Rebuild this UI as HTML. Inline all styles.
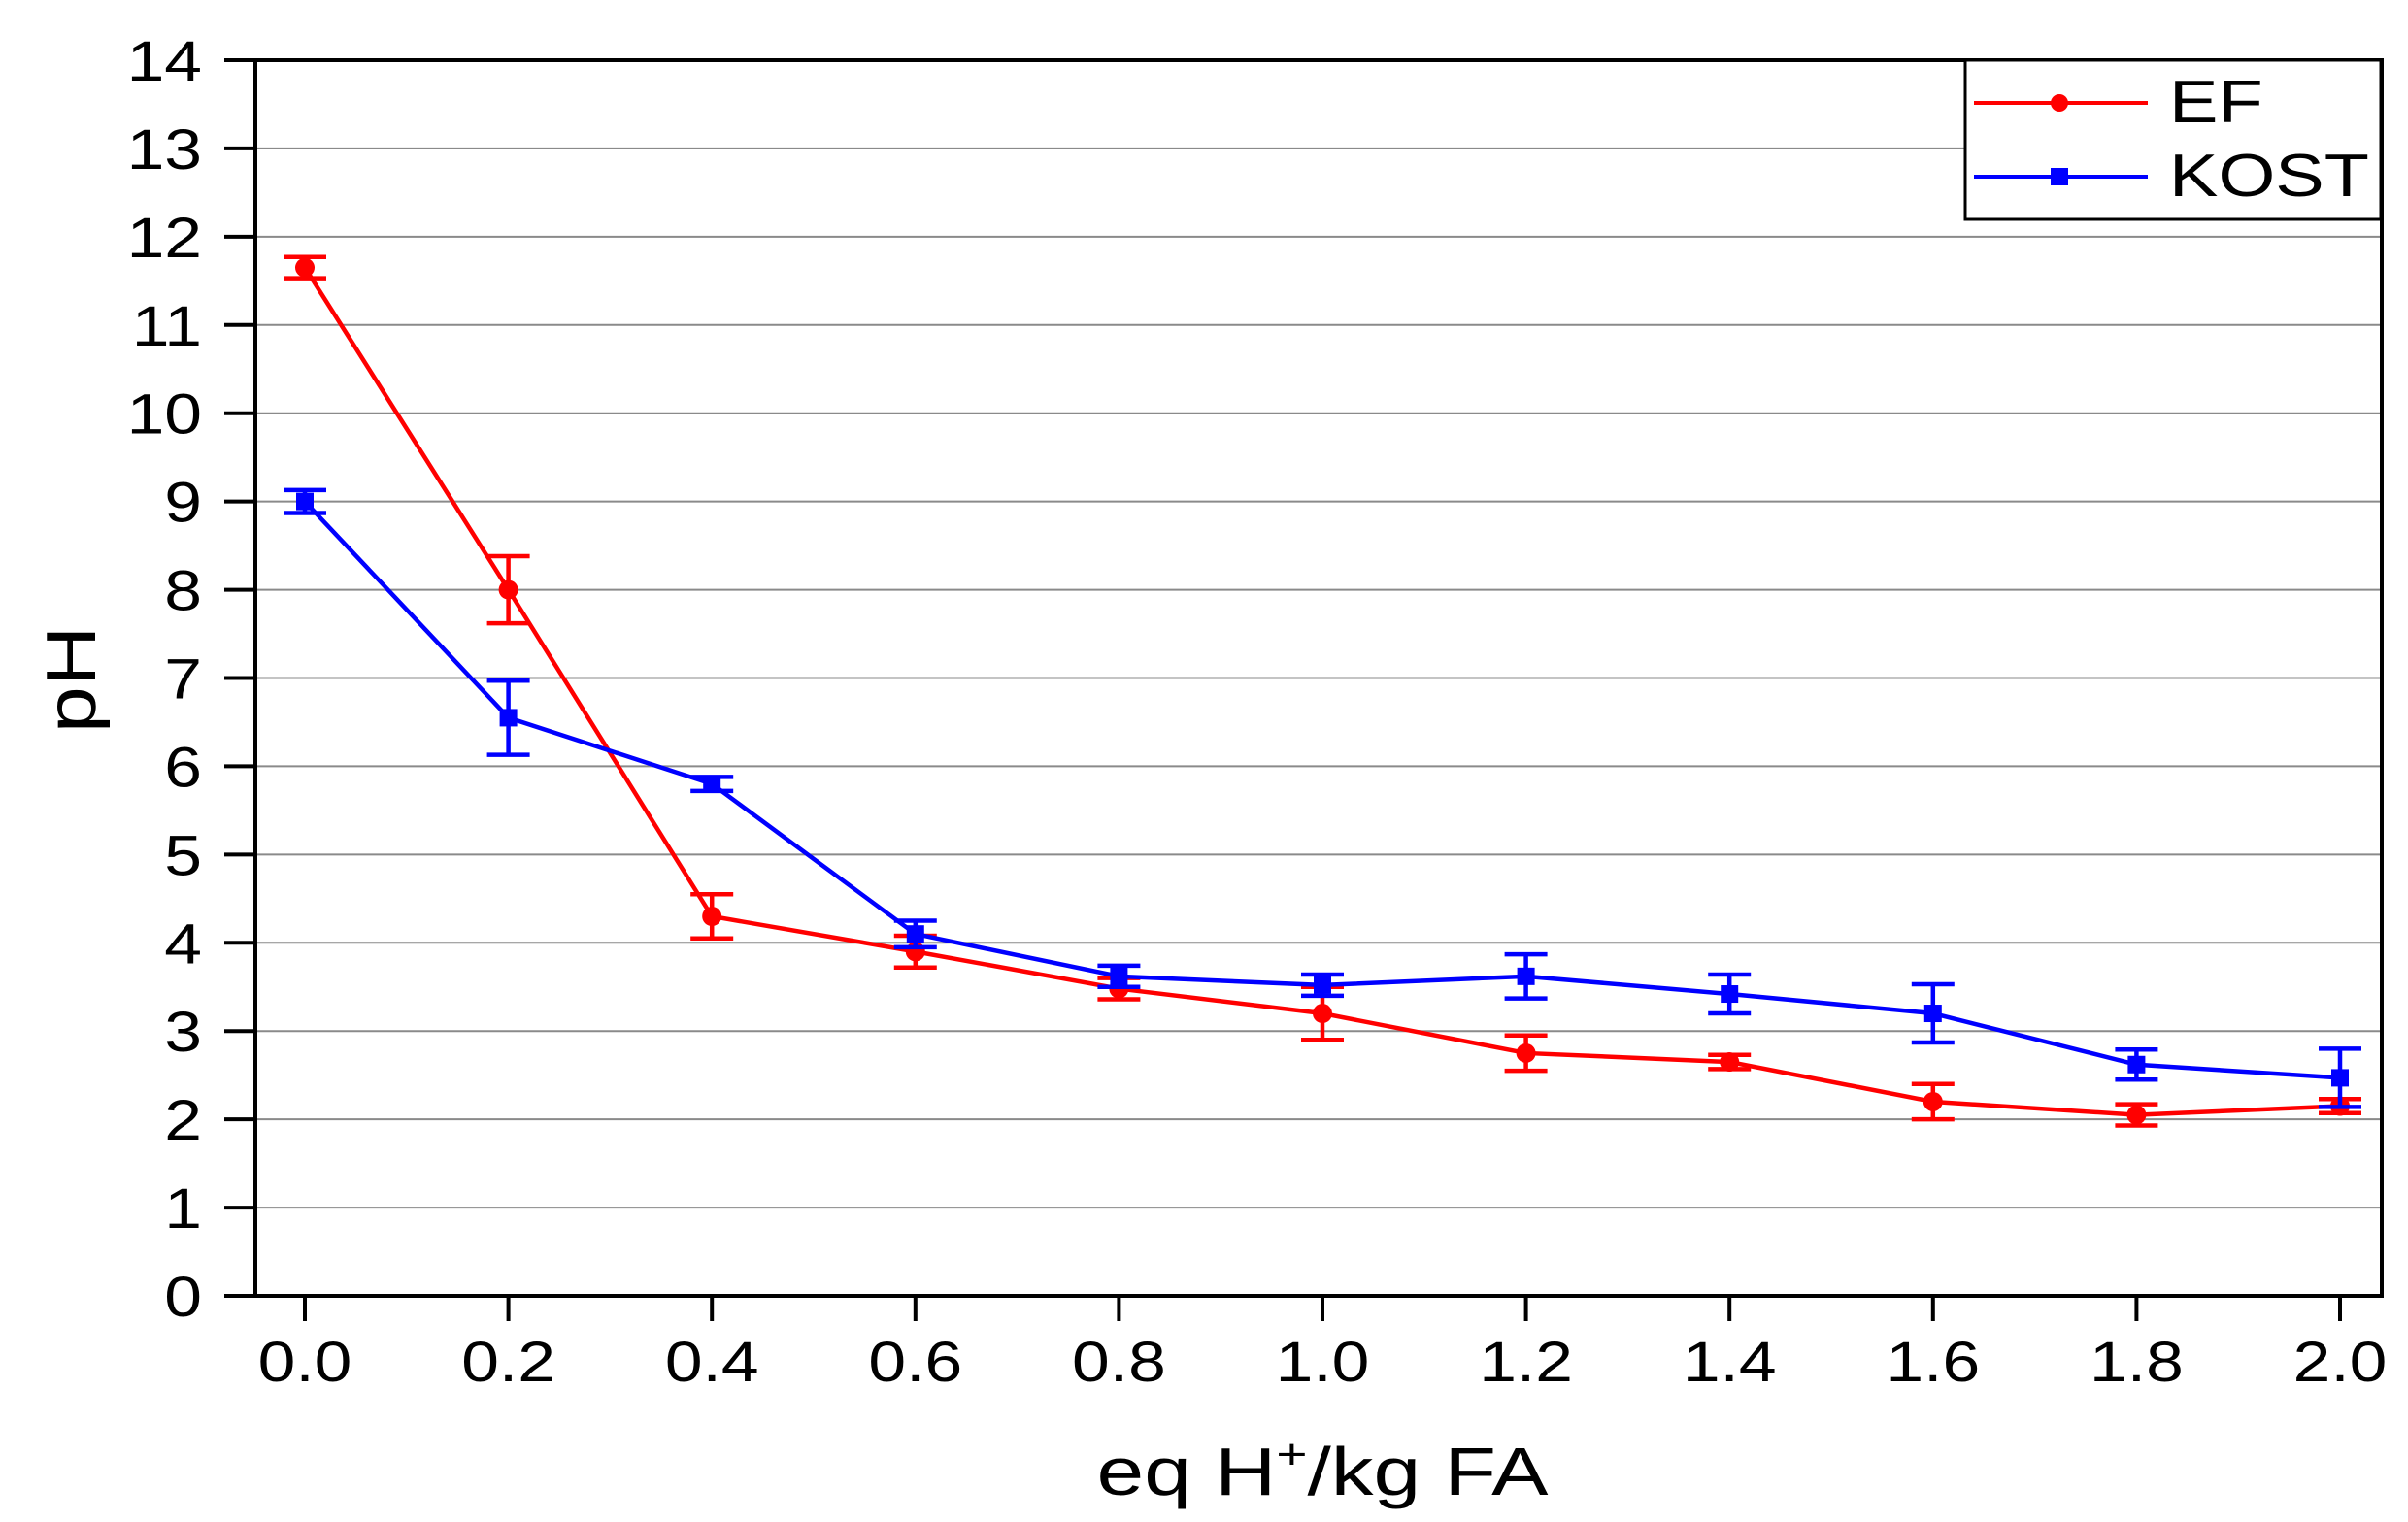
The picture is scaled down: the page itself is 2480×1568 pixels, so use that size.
<!DOCTYPE html>
<html><head><meta charset="utf-8"><style>
html,body{margin:0;padding:0;background:#fff;}
svg{display:block;font-family:"Liberation Sans",Arial,sans-serif;}
</style></head>
<body>
<svg id="chart" width="2480" height="1568" viewBox="0 0 2480 1568" xmlns="http://www.w3.org/2000/svg">
<rect x="0" y="0" width="2480" height="1568" fill="#fff"/>
<g id="grid"></g>
<g id="series"></g>
<g id="axes"></g>
<text x="0" y="0" transform="translate(98,700) rotate(-90) scale(1.2,1)" text-anchor="middle" font-size="72">pH</text>
<text x="0" y="0" transform="translate(1362,1540) scale(1.25,1)" text-anchor="middle" font-size="70">eq H<tspan font-size="44" dy="-27">+</tspan><tspan dy="27">/kg FA</tspan></text>
<g>
<rect x="2024" y="62" width="428" height="164" fill="#fff" stroke="#000" stroke-width="3"/>
<g>
<line x1="2033" y1="106" x2="2212" y2="106" stroke="#f00" stroke-width="4"/>
<circle cx="2121" cy="106" r="9" fill="#f00"/>
<text x="0" y="0" transform="translate(2234,126) scale(1.22,1)" font-size="62">EF</text></g>
<g>
<line x1="2033" y1="182" x2="2212" y2="182" stroke="#00f" stroke-width="4"/>
<rect x="2112" y="173" width="18" height="18" fill="#00f"/>
<text x="0" y="0" transform="translate(2234,202) scale(1.22,1)" font-size="62">KOST</text></g>
</g>
</svg>
<script>
const xValues=[0.0,0.2,0.4,0.6,0.8,1.0,1.2,1.4,1.6,1.8,2.0];
const efValues=[11.65,8.0,4.3,3.9,3.48,3.2,2.75,2.65,2.2,2.05,2.15];
const efErrors=[0.12,0.38,0.25,0.18,0.12,0.3,0.2,0.08,0.2,0.12,0.08];
const kostValues=[9.0,6.55,5.8,4.1,3.62,3.52,3.62,3.42,3.2,2.62,2.47];
const kostErrors=[0.13,0.42,0.08,0.15,0.12,0.12,0.25,0.22,0.33,0.17,0.33];
const yTicks=[0,1,2,3,4,5,6,7,8,9,10,11,12,13,14];
const xTicks=["0.0","0.2","0.4","0.6","0.8","1.0","1.2","1.4","1.6","1.8","2.0"];

const NS="http://www.w3.org/2000/svg";
const L=263,R=2453,T=62,B=1335;
function xs(v){return 314+v*(2410-314)/2.0;}
function ys(v){return B-v*(B-T)/14;}
function mk(tag,attrs,parent){const e=document.createElementNS(NS,tag);for(const k in attrs)e.setAttribute(k,attrs[k]);parent.appendChild(e);return e;}
const grid=document.getElementById('grid'),axes=document.getElementById('axes'),series=document.getElementById('series');
yTicks.forEach(t=>{
  const y=ys(t);
  if(t>0&&t<14){const g=mk('line',{x1:L,x2:R,y1:y,y2:y,stroke:'#8a8a8a','stroke-width':2},grid);
  
  }
  const tk=mk('line',{x1:L-32,x2:L,y1:y,y2:y,stroke:'#000','stroke-width':4},axes);
  
  
  const lb=mk('text',{x:0,y:0,transform:`translate(208,${y+21}) scale(1.2,1)`,'text-anchor':'end','font-size':58},axes);
  lb.textContent=t;
  
  
});
xTicks.forEach(t=>{
  const x=xs(parseFloat(t));
  const tk=mk('line',{x1:x,x2:x,y1:B,y2:B+26,stroke:'#000','stroke-width':4},axes);
  
  
  const lb=mk('text',{x:0,y:0,transform:`translate(${x},1423) scale(1.2,1)`,'text-anchor':'middle','font-size':58},axes);
  lb.textContent=t;
  
  
});
const frame=mk('rect',{x:L,y:T,width:R-L,height:B-T,fill:'none',stroke:'#000','stroke-width':4},axes);



function drawSeries(name,vals,errs,color,shape){
  const g=mk('g',{},series);
  
  
  const pts=xValues.map((x,i)=>xs(x)+','+ys(vals[i])).join(' ');
  const pl=mk('polyline',{points:pts,fill:'none',stroke:color,'stroke-width':4.5},g);
  
  
  xValues.forEach((x,i)=>{
    const cx=xs(x),hi=ys(vals[i]+errs[i]),lo=ys(vals[i]-errs[i]);
    const eb=mk('path',{d:`M${cx},${hi}V${lo}M${cx-22},${hi}H${cx+22}M${cx-22},${lo}H${cx+22}`,stroke:color,'stroke-width':4.5,fill:'none'},g);
    
    
    let m;
    if(shape==='circle') m=mk('circle',{cx:cx,cy:ys(vals[i]),r:10,fill:color},g);
    else m=mk('rect',{x:cx-9,y:ys(vals[i])-9,width:18,height:18,fill:color},g);
    
    
  });
}
drawSeries('ef',efValues,efErrors,'#ff0000','circle');
drawSeries('kost',kostValues,kostErrors,'#0000ff','square');
</script>
</body></html>
